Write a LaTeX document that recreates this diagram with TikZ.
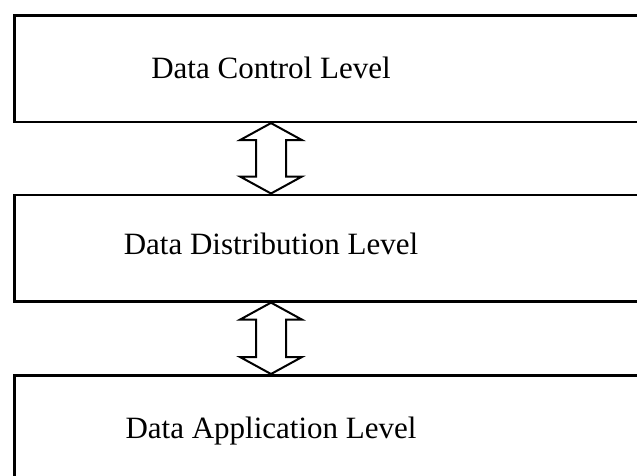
\documentclass[tikz,border=0pt]{standalone}
\usepackage{fontspec}
\setmainfont{Liberation Serif}
\usetikzlibrary{calc}

\tikzset{
  level/.style={draw, line width=2.6pt, minimum height=106.5pt, minimum width=700pt, anchor=north west, inner sep=0pt},
  levellabel/.style={font=\fontsize{31}{37}\selectfont, text height=21pt, text depth=0pt, inner sep=0pt},
  biarrow/.style={draw, line width=2pt, line join=miter, fill=white}
}

\begin{document}
\begin{tikzpicture}[x=1pt,y=-1pt]
			\useasboundingbox (0,0) rectangle (637,475);
			\clip (0,0) rectangle (637,475);
			% the three levels
			\node [level] (ctrl) at (13,14) {};
			\node [level] (dist) at (13,193.5) {};
			\node [level] (app) at (13,374) {};
			\node [levellabel] (lctrl) at (271,67.5) {Data Control Level};
			\node [levellabel] (ldist) at (271,244) {Data Distribution Level};
			\node [levellabel] (lapp) at (271,428) {Data Application Level};
			% two-way arrows between the levels
			\foreach \up/\down in {ctrl/dist, dist/app}
				\draw [biarrow] (\up.south -| l\up) -- ++(31,17) -- ++(-16,0)
					-- ($(\down.north -| l\down)+(15,-17)$) -- ++(16,0)
					-- (\down.north -| l\down) -- ++(-31,-17) -- ++(16,0)
					-- ($(\up.south -| l\up)+(-15,17)$) -- ++(-16,0) -- cycle;
		\end{tikzpicture}
\end{document}
